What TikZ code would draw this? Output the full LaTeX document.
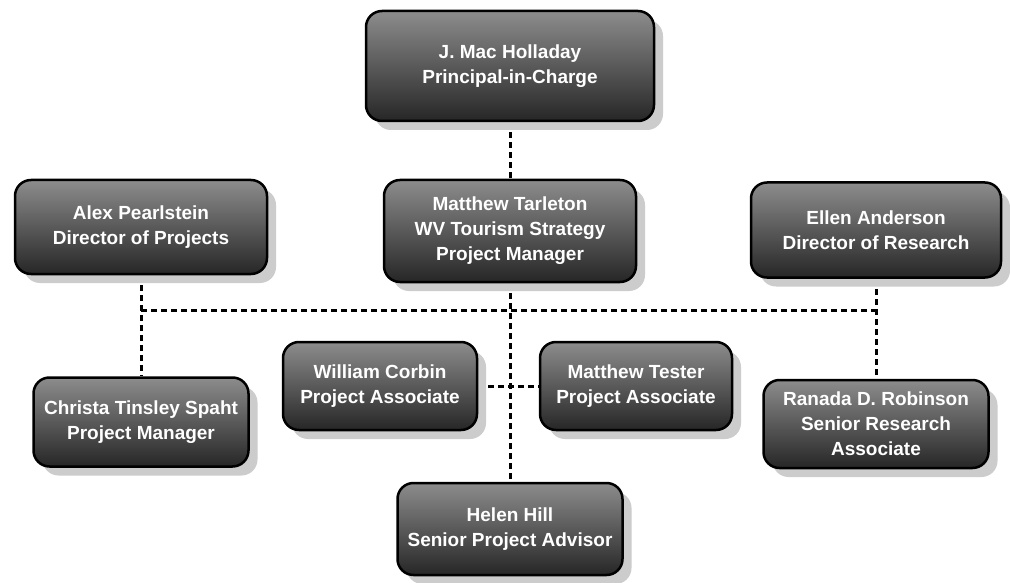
\documentclass[tikz,border=0pt]{standalone}
\usepackage{fontspec}
\setmainfont{Liberation Sans}
\usetikzlibrary{shadows,backgrounds}
\tikzset{
  person/.style={draw=black, line width=2.5pt, rounded corners=16pt,
    top color=black!45, bottom color=black!85,
    text=white, font=\bfseries\fontsize{19}{25}\selectfont, align=center, inner sep=0pt,
    drop shadow={shadow xshift=9pt, shadow yshift=-9pt, fill=black!20, opacity=1}},
  conn/.style={draw=black, line width=3pt, dash pattern=on 6pt off 4pt}
}
\begin{document}
\begin{tikzpicture}[x=1pt,y=-1pt]
\useasboundingbox (0,0) rectangle (1010,583);
\node[person, minimum width=288pt, minimum height=110pt] (mac) at (510,66) {J. Mac Holladay\\Principal-in-Charge};
\node[person, minimum width=252pt, minimum height=94pt] (alex) at (141,227) {Alex Pearlstein\\Director of Projects};
\node[person, minimum width=252pt, minimum height=102pt] (tarl) at (510,231) {Matthew Tarleton\\WV Tourism Strategy\\Project Manager};
\node[person, minimum width=250pt, minimum height=95pt] (ellen) at (876,230) {Ellen Anderson\\Director of Research};
\node[person, minimum width=215pt, minimum height=89pt] (christa) at (141,422) {Christa Tinsley Spaht\\Project Manager};
\node[person, minimum width=194pt, minimum height=88pt] (corbin) at (380,386) {William Corbin\\Project Associate};
\node[person, minimum width=192pt, minimum height=88pt] (tester) at (636,386) {Matthew Tester\\Project Associate};
\node[person, minimum width=225pt, minimum height=88pt] (ranada) at (876,424) {Ranada D. Robinson\\Senior Research\\Associate};
\node[person, minimum width=225pt, minimum height=92pt] (helen) at (510,529) {Helen Hill\\Senior Project Advisor};
\coordinate (hl) at (0,310);
\begin{scope}[on background layer]
\fill[white] (0,0) rectangle (1010,583);
\draw[conn] (mac.south) -- (tarl.north);
\draw[conn] (tarl.south) -- (helen.north);
\draw[conn] (alex.south) -- (christa.north);
\draw[conn] (ellen.south) -- (ranada.north);
\draw[conn] (alex.south |- hl) -- (ellen.south |- hl);
\draw[conn] (corbin.east) -- (tester.west);
\end{scope}
\end{tikzpicture}
\end{document}
